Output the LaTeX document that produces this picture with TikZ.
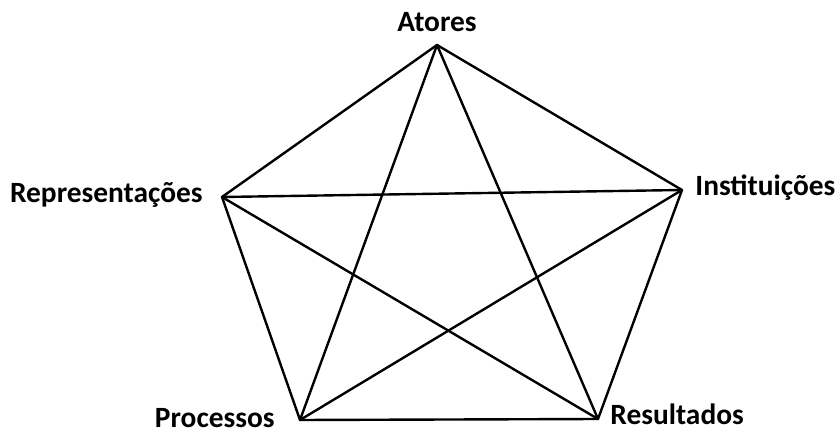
\documentclass[tikz,border=0pt]{standalone}
\usepackage{fontspec}
\setmainfont{Carlito}
\usetikzlibrary{positioning}

\begin{document}
\begin{tikzpicture}[
    x=0.5pt, y=-0.5pt,
    lbl/.style={inner sep=0pt, font=\fontsize{14.7}{17}\selectfont\bfseries, text height=1.45ex, text depth=0.35ex},
    edge/.style={line width=1.2pt, line cap=round, line join=round}
]
\useasboundingbox (0,0) rectangle (837,433);

% Corners of the pentagon
\coordinate (at) at (437,45);
\coordinate (rep) at (222,197);
\coordinate (ins) at (682,190);
\coordinate (pro) at (300,420);
\coordinate (res) at (598,419);

% Labels
\node[lbl, above=5pt of at] (atores) {Atores};
\node[lbl, left=9.5pt of rep] (representacoes) {Representações};
\node[lbl, right=6.5pt of ins] (instituicoes) {Instituições};
\node[lbl, left=12.5pt of pro, yshift=-1pt] (processos) {Processos};
\node[lbl, right=6pt of res] (resultados) {Resultados};

% Outer edges
\draw[edge] (at) -- (ins);
\draw[edge] (ins) -- (res);
\draw[edge] (res) -- (pro);
\draw[edge] (pro) -- (rep);
\draw[edge] (rep) -- (at);

% Inner star
\draw[edge] (at) -- (pro);
\draw[edge] (at) -- (res);
\draw[edge] (rep) -- (ins);
\draw[edge] (rep) -- (res);
\draw[edge] (ins) -- (pro);
\end{tikzpicture}
\end{document}
